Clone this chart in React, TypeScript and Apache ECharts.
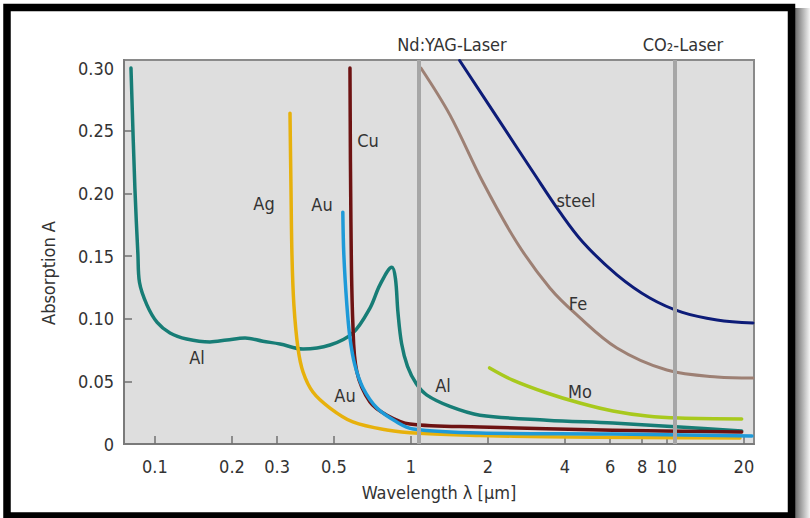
import React, { useEffect, useRef } from "react";
import * as echarts from "echarts";

// Wavelength in µm, absorption A
const alLambda = [0.0806, 0.0835, 0.0858, 0.087, 0.093, 0.102, 0.1145, 0.133, 0.164, 0.191, 0.225, 0.264, 0.308, 0.379, 0.483, 0.593, 0.692, 0.757, 0.843, 0.87, 0.89, 0.92, 0.97, 1.05, 1.155, 1.42, 1.86, 3.4, 6.15, 11.2, 19.6];
const alA = [0.300, 0.204, 0.151, 0.129, 0.111, 0.097, 0.0886, 0.0838, 0.0814, 0.083, 0.0846, 0.082, 0.0798, 0.0758, 0.079, 0.0886, 0.1085, 0.127, 0.141, 0.132, 0.105, 0.080, 0.062, 0.048, 0.039, 0.030, 0.023, 0.019, 0.0167, 0.0136, 0.0104];

const agLambda = [0.337, 0.34, 0.343, 0.349, 0.362, 0.379, 0.414, 0.483, 0.593, 0.806, 1.08, 1.86, 3.4, 8.0, 19.3];
const agA = [0.264, 0.204, 0.151, 0.111, 0.0766, 0.0575, 0.0415, 0.0287, 0.0176, 0.0112, 0.0085, 0.0068, 0.0058, 0.0052, 0.0048];

const cuLambda = [0.578, 0.583, 0.593, 0.615, 0.692, 0.806, 0.99, 1.86, 6.15, 19.6];
const cuA = [0.300, 0.177, 0.097, 0.0575, 0.0335, 0.023, 0.016, 0.0136, 0.011, 0.0096];

const auLambda = [0.542, 0.547, 0.562, 0.578, 0.604, 0.65, 0.737, 0.88, 1.02, 1.86, 6.15, 21.5];
const auA = [0.185, 0.151, 0.111, 0.0846, 0.063, 0.0447, 0.0287, 0.0176, 0.012, 0.0088, 0.008, 0.0064];

const feLambda = [1.094, 1.42, 1.91, 2.59, 3.49, 4.45, 6.38, 10.0, 15.7, 21.7];
const feA = [0.300, 0.2626, 0.209, 0.161, 0.1245, 0.103, 0.0766, 0.059, 0.0535, 0.0527];

const steelLambda = [1.55, 2.23, 3.0, 3.82, 4.7, 6.38, 8.58, 11.5, 15.7, 21.7];
const steelA = [0.306, 0.257, 0.217, 0.185, 0.161, 0.135, 0.1165, 0.105, 0.099, 0.0966];

const moLambda = [2.03, 2.5, 3.4, 4.57, 6.15, 8.36, 11.2, 19.6];
const moA = [0.0607, 0.051, 0.0407, 0.0327, 0.0263, 0.0223, 0.0207, 0.020];

const xTicks = [0.1, 0.2, 0.3, 0.5, 1, 2, 4, 6, 8, 10, 20];
const yTicks = [0, 0.05, 0.1, 0.15, 0.2, 0.25, 0.3];
const yTickMarks = [0.05, 0.1, 0.15, 0.2, 0.25];
const laserLines = [1.064, 10.6];

const X_MIN = 0.0757;
const X_MAX = 21.9;
const Y_MAX = 0.3064;

const FONT = '"Liberation Sans Narrow", "DejaVu Sans Condensed", "Open Sans", sans-serif';
const TEXT = "#333333";
const FS = 18;

const lg = (v: number) => Math.log10(v);
const toData = (xs: number[], ys: number[]) => xs.map((x, i) => [lg(x), ys[i]]);

const curve = (name: string, xs: number[], ys: number[], color: string, width = 3) => ({
  name,
  type: "line",
  data: toData(xs, ys),
  showSymbol: false,
  smooth: 0.35,
  z: 3,
  lineStyle: { color, width, cap: "round", join: "round" },
  emphasis: { disabled: true },
});

const label = (text: string, x: number, y: number) => ({
  type: "text",
  x,
  y,
  z: 10,
  style: {
    text,
    fill: TEXT,
    font: `${FS}px ${FONT}`,
    textAlign: "center",
    textVerticalAlign: "middle",
    align: "center",
    verticalAlign: "middle",
  },
});

export default function App() {
  const ref = useRef<HTMLDivElement>(null);
  useEffect(() => {
    if (!ref.current) return;
    const chart = echarts.init(ref.current, null, { renderer: "svg" });
    chart.setOption({
      animation: false,
      backgroundColor: "#ffffff",
      grid: {
        left: 124,
        top: 60,
        right: 56,
        bottom: 74,
        show: true,
        backgroundColor: "#dedede",
        borderColor: "#8a8a8a",
        borderWidth: 2,
      },
      xAxis: {
        type: "value",
        min: lg(X_MIN),
        max: lg(X_MAX),
        axisLine: { onZero: false, lineStyle: { color: "#7a7a7a", width: 2 } },
        axisTick: {
          show: true,
          inside: true,
          length: 8,
          customValues: xTicks.map(lg),
          lineStyle: { color: "#707070", width: 1.5 },
        },
        axisLabel: {
          customValues: xTicks.map(lg),
          margin: 13,
          color: TEXT,
          fontSize: FS,
          fontFamily: FONT,
          formatter: (v: number) => {
            const r = Math.pow(10, v);
            return r < 1 ? r.toFixed(1) : String(Math.round(r));
          },
        },
        splitLine: { show: false },
        name: "Wavelength λ [µm]",
        nameLocation: "middle",
        nameGap: 39,
        nameTextStyle: { color: TEXT, fontSize: FS, fontFamily: FONT },
      },
      yAxis: {
        type: "value",
        min: 0,
        max: Y_MAX,
        axisLine: { show: true, onZero: false, lineStyle: { color: "#7a7a7a", width: 2 } },
        axisTick: {
          show: true,
          inside: true,
          length: 8,
          customValues: yTickMarks,
          lineStyle: { color: "#707070", width: 1.5 },
        },
        axisLabel: {
          customValues: yTicks,
          margin: 10,
          color: TEXT,
          fontSize: FS,
          fontFamily: FONT,
          formatter: (v: number) => (v === 0 ? "0" : v.toFixed(2)),
        },
        splitLine: { show: false },
      },
      series: [
        {
          name: "lasers",
          type: "line",
          data: [],
          z: 1,
          markLine: {
            silent: true,
            symbol: ["none", "none"],
            label: { show: false },
            lineStyle: { color: "#a6a6a6", width: 4, type: "solid" },
            data: laserLines.map((l) => ({ xAxis: lg(l) })),
          },
        },
        curve("Al", alLambda, alA, "#177d76", 3.5),
        curve("Ag", agLambda, agA, "#e7b10c", 3.5),
        curve("Cu", cuLambda, cuA, "#6d1212", 3.5),
        curve("Au", auLambda, auA, "#1e9ad8", 3.5),
        curve("Fe", feLambda, feA, "#9d8074", 3),
        curve("steel", steelLambda, steelA, "#0d1c78", 3),
        curve("Mo", moLambda, moA, "#a8c91d", 3.5),
      ],
      graphic: [
        {
          type: "rect",
          shape: { x: 795, y: 8, width: 15, height: 510 },
          style: {
            fill: new echarts.graphic.LinearGradient(0, 0, 1, 0, [
              { offset: 0, color: "#6a6a6a" },
              { offset: 1, color: "#f4f4f4" },
            ]),
          },
          z: 20,
        },
        {
          type: "rect",
          shape: { x: 7, y: 7.5, width: 784.5, height: 508.5 },
          style: { fill: "none", stroke: "#000000", lineWidth: 7.5 },
          z: 21,
        },
        {
          type: "text",
          x: 48,
          y: 273,
          rotation: Math.PI / 2,
          z: 10,
          style: {
            text: "Absorption A",
            fill: TEXT,
            font: `${FS}px ${FONT}`,
            textAlign: "center",
            textVerticalAlign: "middle",
            align: "center",
            verticalAlign: "middle",
          },
        },
        label("Nd:YAG-Laser", 452, 44),
        label("CO₂-Laser", 683, 44),
        label("Al", 197, 357),
        label("Ag", 264, 203),
        label("Au", 322, 204),
        label("Cu", 368, 140),
        label("Au", 345, 395),
        label("Al", 443, 385),
        label("Mo", 580, 391),
        label("steel", 576, 200),
        label("Fe", 578, 303),
      ],
    });
    return () => chart.dispose();
  }, []);
  return (
    <div
      ref={ref}
      style={{ position: "fixed", left: 0, top: 0, width: 810, height: 518 }}
    />
  );
}
